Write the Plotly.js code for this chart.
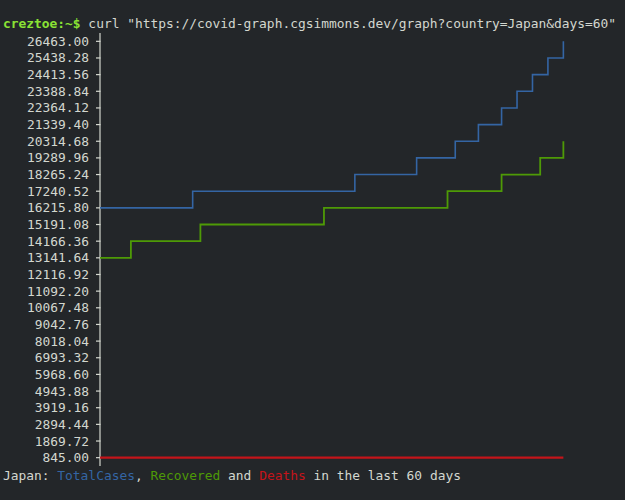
<!DOCTYPE html>
<html>
<head>
<meta charset="utf-8">
<script src="https://cdn.plot.ly/plotly-3.0.1.min.js"></script>
<style>
  html, body { margin: 0; padding: 0; background: #232629; }
  #chart { width: 625px; height: 500px; }
</style>
</head>
<body>
<div id="chart"></div>
<script>
// ---- data ----
const days = [0,1,2,3,4,5,6,7,8,9,10,11,12,13,14,15,16,17,18,19,20,21,22,23,24,25,26,27,28,29,30,
              31,32,33,34,35,36,37,38,39,40,41,42,43,44,45,46,47,48,49,50,51,52,53,54,55,56,57,58,59,60];

const totalCases = [
  16215.80,16215.80,16215.80,16215.80,16215.80,16215.80,16215.80,16215.80,16215.80,16215.80,16215.80,16215.80,
  17240.52,17240.52,17240.52,17240.52,17240.52,17240.52,17240.52,17240.52,17240.52,17240.52,17240.52,
  17240.52,17240.52,17240.52,17240.52,17240.52,17240.52,17240.52,17240.52,17240.52,17240.52,
  18265.24,18265.24,18265.24,18265.24,18265.24,18265.24,18265.24,18265.24,
  19289.96,19289.96,19289.96,19289.96,19289.96,
  20314.68,20314.68,20314.68,
  21339.40,21339.40,21339.40,
  22364.12,22364.12,
  23388.84,23388.84,
  24413.56,24413.56,
  25438.28,25438.28,
  26463.00
];

const recovered = [
  13141.64,13141.64,13141.64,13141.64,
  14166.36,14166.36,14166.36,14166.36,14166.36,14166.36,14166.36,14166.36,14166.36,
  15191.08,15191.08,15191.08,15191.08,15191.08,15191.08,15191.08,15191.08,
  15191.08,15191.08,15191.08,15191.08,15191.08,15191.08,15191.08,15191.08,
  16215.80,16215.80,16215.80,16215.80,16215.80,16215.80,16215.80,16215.80,
  16215.80,16215.80,16215.80,16215.80,16215.80,16215.80,16215.80,16215.80,
  17240.52,17240.52,17240.52,17240.52,17240.52,17240.52,17240.52,
  18265.24,18265.24,18265.24,18265.24,18265.24,
  19289.96,19289.96,19289.96,
  20314.68
];

const deaths = [
  845,845,845,845,845,845,845,845,845,845,845,845,845,845,845,845,845,845,845,845,
  845,845,845,845,845,845,845,845,845,845,845,845,845,845,845,845,845,845,845,845,
  845,845,845,845,845,845,845,845,845,845,845,845,845,845,845,845,845,845,845,845,845
];

const yTickValues = [26463.00,25438.28,24413.56,23388.84,22364.12,21339.40,20314.68,19289.96,18265.24,
  17240.52,16215.80,15191.08,14166.36,13141.64,12116.92,11092.20,10067.48,9042.76,8018.04,6993.32,
  5968.60,4943.88,3919.16,2894.44,1869.72,845.00];
const yTickLabels = ["26463.00","25438.28","24413.56","23388.84","22364.12","21339.40","20314.68","19289.96",
  "18265.24","17240.52","16215.80","15191.08","14166.36","13141.64","12116.92","11092.20","10067.48",
  "9042.76","8018.04","6993.32","5968.60","4943.88","3919.16","2894.44","1869.72","845.00"];

const command = 'curl "https://covid-graph.cgsimmons.dev/graph?country=Japan&days=60"';
const promptText = 'creztoe:~$';
const captionParts = ['Japan: ', 'TotalCases', ', ', 'Recovered', ' and ', 'Deaths', ' in the last 60 days'];

// ---- styling / layout ----
const BG = '#232629', FG = '#d3d7cf';
const BLUE = '#3465a4', GREEN = '#4e9a06', RED = '#c4141a', PROMPT = '#8ae234';
const MONO = '"DejaVu Sans Mono", "Liberation Mono", monospace';

const L = 100, T = 33, W = 468, H = 433;
const px = x => (x - L) / W;
const py = y => (T + H - y) / H;

const yMin = Math.min(...yTickValues), yMax = Math.max(...yTickValues);
const half = (yTickValues[0] - yTickValues[1]) / 2;

function line(y, color, width) {
  return { x: days, y: y, type: 'scatter', mode: 'lines',
           line: { color: color, width: width, shape: 'hv' }, hoverinfo: 'skip' };
}

const data = [
  line(deaths, RED, 2.2),
  line(recovered, GREEN, 1.8),
  line(totalCases, BLUE, 1.6)
];

const caption =
  captionParts[0] +
  '<span style="color:' + BLUE + '">' + captionParts[1] + '</span>' +
  captionParts[2] +
  '<span style="color:' + GREEN + '">' + captionParts[3] + '</span>' +
  captionParts[4] +
  '<span style="color:' + RED + '">' + captionParts[5] + '</span>' +
  captionParts[6];

// axis line and "┤" tick marks drawn as shapes (below the series)
const axisShapes = [
  { type: 'line', layer: 'below', xref: 'paper', yref: 'paper', x0: 0, x1: 0, y0: 0, y1: 1,
    line: { color: FG, width: 1.2 } }
].concat(yTickValues.map(v => ({
  type: 'line', layer: 'below', xref: 'paper', yref: 'y', x0: px(96), x1: px(100.5), y0: v, y1: v,
  line: { color: FG, width: 1.2 }
})));

const layout = {
  width: 625, height: 500,
  paper_bgcolor: BG, plot_bgcolor: BG,
  margin: { l: L, r: 625 - L - W, t: T, b: 500 - T - H, pad: 0 },
  showlegend: false,
  font: { family: MONO, size: 12.9, color: FG },
  xaxis: { range: [0, 60.6], showline: false, showticklabels: false, ticks: '',
           showgrid: false, zeroline: false, fixedrange: true },
  yaxis: {
    range: [yMin - half, yMax + half],
    tickmode: 'array', tickvals: yTickValues, ticktext: yTickLabels,
    ticks: '', ticklabelstandoff: 10,
    showline: false, showgrid: false, zeroline: false,
    tickfont: { family: MONO, size: 12.9, color: FG },
    fixedrange: true
  },
  shapes: axisShapes,
  annotations: [
    { xref: 'paper', yref: 'paper', x: px(1), y: py(24), xanchor: 'left', yanchor: 'middle',
      showarrow: false, align: 'left', font: { family: MONO, size: 12.9, color: FG },
      text: '<span style="color:' + PROMPT + '"><b>' + promptText + '</b></span> ' + command },
    { xref: 'paper', yref: 'paper', x: px(1), y: py(476), xanchor: 'left', yanchor: 'middle',
      showarrow: false, align: 'left', font: { family: MONO, size: 12.9, color: FG },
      text: caption }
  ]
};

Plotly.newPlot('chart', data, layout, { staticPlot: true, displayModeBar: false });
</script>
</body>
</html>
